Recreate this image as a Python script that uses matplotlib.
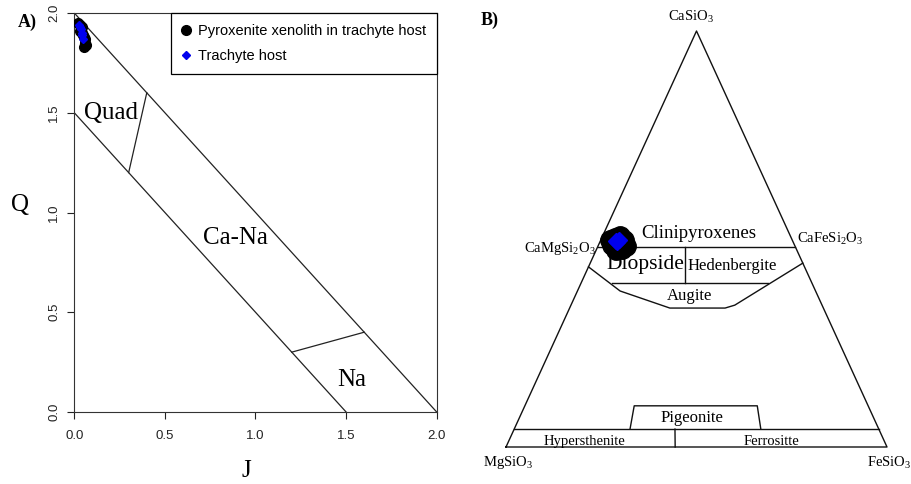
import numpy as np
import matplotlib.pyplot as plt

plt.rcParams['mathtext.fontset'] = 'custom'
plt.rcParams['mathtext.rm'] = 'Liberation Serif'
plt.rcParams['mathtext.it'] = 'Liberation Serif:italic'
plt.rcParams['mathtext.bf'] = 'Liberation Serif:bold'

SERIF = 'Liberation Serif'
SANS = 'Liberation Sans'

# --- Q-J diagram (Morimoto) ---
upper_J = [0.0, 2.0]
upper_Q = [2.0, 0.0]
lower_J = [0.0, 1.5]
lower_Q = [1.5, 0.0]
quad_J = [0.3, 0.4]
quad_Q = [1.2, 1.6]
na_J = [1.2, 1.6]
na_Q = [0.3, 0.4]

xeno_J = [0.02, 0.03, 0.04, 0.03, 0.045, 0.05, 0.055, 0.06, 0.06, 0.065, 0.055]
xeno_Q = [1.95, 1.94, 1.93, 1.91, 1.90, 1.89, 1.88, 1.87, 1.85, 1.84, 1.83]
host_J = [0.025, 0.03, 0.035, 0.04, 0.045, 0.05]
host_Q = [1.94, 1.93, 1.92, 1.90, 1.89, 1.87]

qj_ticks = [0.0, 0.5, 1.0, 1.5, 2.0]
qj_ticklabels = ['0.0', '0.5', '1.0', '1.5', '2.0']

# --- Wo-En-Fs quadrilateral, points given as (Wo, En, Fs) ---
outline = [(0, 100, 0), (0, 0, 100), (100, 0, 0), (0, 100, 0)]
wo48_line = [(48.1, 51.9, 0), (48.1, 0, 51.9)]
di_hd_floor = [(39.4, 52.5, 8.1), (39.4, 11.5, 49.1)]
di_hd_split = [(48.1, 28.95, 22.95), (39.4, 33.3, 27.3)]
augite_floor = [(43.3, 56.7, 0), (37.5, 51.3, 11.2), (33.4, 40.3, 26.3),
                (33.4, 25.8, 40.8), (34.1, 22.9, 43.0), (44.2, 0, 55.8)]
wo5_line = [(4.3, 95.7, 0), (4.3, 0, 95.7)]
pigeonite = [(4.3, 65.3, 30.4), (9.9, 61.4, 28.7), (9.9, 29.1, 61.0), (4.3, 31.0, 64.8)]
opx_split = [(0, 55.6, 44.4), (4.3, 53.5, 42.2)]

xeno_wef = [(48.6, 47.9, 3.5), (50.2, 46.3, 3.5), (50.7, 44.8, 4.5), (49.8, 44.1, 6.1),
            (47.6, 45.8, 6.6), (47.4, 47.4, 5.2), (48.3, 44.4, 7.3), (49.8, 47.8, 2.4)]
host_wef = [(49.5, 46.4, 4.1), (49.8, 45.4, 4.8), (49.0, 46.0, 4.6)]


def tern(points):
    arr = np.asarray(points, dtype=float)
    arr = arr / arr.sum(axis=1, keepdims=True)
    wo, en, fs = arr.T
    return fs + wo / 2, wo


fig = plt.figure(figsize=(9.11, 4.84), dpi=100)

# panel A
ax = fig.add_axes([74.3 / 911, 72 / 484, 362.4 / 911, 399 / 484])
for jj, qq in [(upper_J, upper_Q), (lower_J, lower_Q), (quad_J, quad_Q), (na_J, na_Q)]:
    ax.plot(jj, qq, color='#222222', lw=0.9)
ax.plot(xeno_J, xeno_Q, 'o', color='black', ms=7, zorder=3,
        label='Pyroxenite xenolith in trachyte host')
ax.plot(host_J, host_Q, 'D', color='#0000ee', ms=4.5, zorder=4, label='Trachyte host')
ax.set_xlim(0, 2)
ax.set_ylim(0, 2)
ax.set_xticks(qj_ticks)
ax.set_xticklabels(qj_ticklabels)
ax.set_yticks(qj_ticks)
ax.set_yticklabels(qj_ticklabels, rotation=90, va='center')
ax.tick_params(direction='out', length=5, width=0.8, labelsize=9.5, colors='#222222')
ax.tick_params(axis='x', pad=8)
ax.tick_params(axis='y', pad=5)
for lab in ax.get_xticklabels() + ax.get_yticklabels():
    lab.set_fontfamily(SANS)
for sp in ax.spines.values():
    sp.set_linewidth(0.8)
    sp.set_color('#333333')

ax.set_xlabel('J', fontfamily=SERIF, fontsize=18)
ax.xaxis.set_label_coords(0.475, -0.12)
ax.set_ylabel('Q', fontfamily=SERIF, fontsize=18, rotation=0, ha='center', va='center')
ax.yaxis.set_label_coords(-0.149, 0.52)

ax.text(0.2, 1.5, 'Quad', ha='center', va='center', fontfamily=SERIF, fontsize=18)
ax.text(0.89, 0.87, 'Ca-Na', ha='center', va='center', fontfamily=SERIF, fontsize=18)
ax.text(1.53, 0.16, 'Na', ha='center', va='center', fontfamily=SERIF, fontsize=18)

leg = ax.legend(loc='upper right', borderaxespad=0, fancybox=False, edgecolor='black',
                framealpha=1, prop={'family': SANS, 'size': 10.5}, handlelength=0.6,
                handletextpad=0.5, borderpad=0.75, labelspacing=0.75)
leg.get_frame().set_linewidth(0.9)

fig.text(27 / 911, 1 - 22 / 484, 'A)', ha='center', va='center',
         fontfamily=SERIF, fontweight='bold', fontsize=13)

# panel B
bx = fig.add_axes([506 / 911, 37 / 484, 381 / 911, 416 / 484])
bx.set_xlim(0, 1)
bx.set_ylim(0, 1)
bx.axis('off')
for pts in [outline, wo48_line, di_hd_floor, di_hd_split, augite_floor,
            wo5_line, pigeonite, opx_split]:
    x, y = tern(pts)
    bx.plot(x, y, color='#111111', lw=1.0, clip_on=False)

x, y = tern(xeno_wef)
bx.plot(x, y, 'o', color='black', ms=14, clip_on=False, zorder=3)
x, y = tern(host_wef)
bx.plot(x, y, 'D', color='#0000ee', ms=8.5, clip_on=False, zorder=4)

chem = dict(fontsize=10.5, fontfamily=SERIF)
bx.text(0.486, 1.034, r'$\mathrm{CaSiO_3}$', ha='center', va='center', **chem)
bx.text(0.236, 0.478, r'$\mathrm{CaMgSi_2O_3}$', ha='right', va='center', **chem)
bx.text(0.764, 0.50, r'$\mathrm{CaFeSi_2O_3}$', ha='left', va='center', **chem)
bx.text(-0.060, -0.038, r'$\mathrm{MgSiO_3}$', ha='left', va='center', **chem)
bx.text(0.948, -0.038, r'$\mathrm{FeSiO_3}$', ha='left', va='center', **chem)

bx.text(0.507, 0.514, 'Clinipyroxenes', ha='center', va='center', fontfamily=SERIF, fontsize=13.5)
bx.text(0.365, 0.4375, 'Diopside', ha='center', va='center', fontfamily=SERIF, fontsize=15.5)
bx.text(0.593, 0.435, 'Hedenbergite', ha='center', va='center', fontfamily=SERIF, fontsize=12)
bx.text(0.483, 0.363, 'Augite', ha='center', va='center', fontfamily=SERIF, fontsize=12)
bx.text(0.488, 0.070, 'Pigeonite', ha='center', va='center', fontfamily=SERIF, fontsize=12)
bx.text(0.207, 0.0144, 'Hypersthenite', ha='center', va='center', fontfamily=SERIF, fontsize=10.5)
bx.text(0.698, 0.0144, 'Ferrositte', ha='center', va='center', fontfamily=SERIF, fontsize=10.5)

fig.text(490 / 911, 1 - 20 / 484, 'B)', ha='center', va='center',
         fontfamily=SERIF, fontweight='bold', fontsize=13)

fig.savefig('out.png', dpi=100)
